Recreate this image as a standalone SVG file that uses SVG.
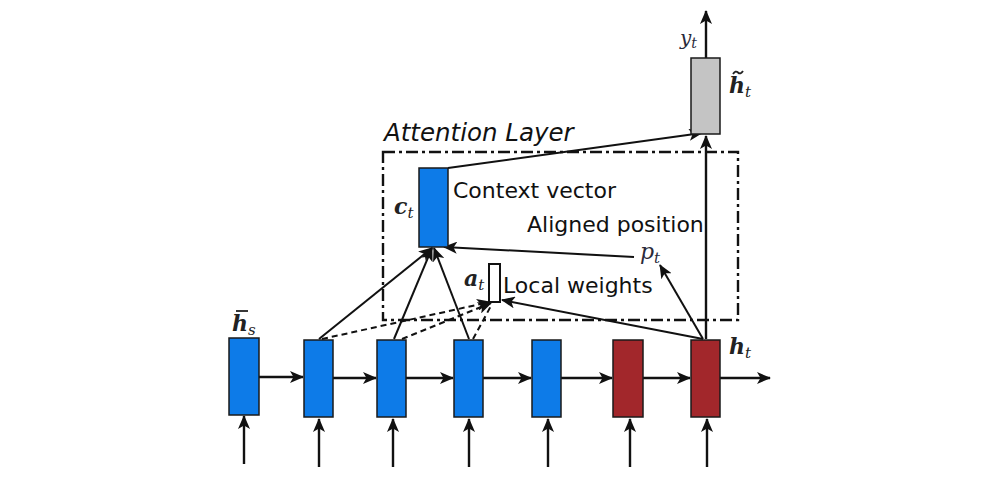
<svg xmlns="http://www.w3.org/2000/svg" width="996" height="484" viewBox="0 0 996 484">
<style>
.blue{fill:#0d7be8;stroke:#1a1a1a;stroke-width:1.5}
.red{fill:#a2272b;stroke:#1a1a1a;stroke-width:1.5}
.gray{fill:#c4c4c4;stroke:#1a1a1a;stroke-width:1.5}
.ln{stroke:#111;stroke-width:2.4;fill:none}
.th{stroke:#111;stroke-width:2;fill:none}
.dash{stroke:#111;stroke-width:2;fill:none;stroke-dasharray:6 4}
.lbl{font-family:"DejaVu Sans",sans-serif;font-size:22px;fill:#111}
.math{font-family:"DejaVu Serif","Liberation Serif",serif;font-style:italic;fill:#2a2a3a}
.mb{font-family:"DejaVu Serif","Liberation Serif",serif;font-style:italic;font-weight:bold;fill:#222;font-size:22px}
.sub{font-weight:normal;font-size:15px}
.acc{stroke:#222;stroke-width:1.8;fill:none}
</style>
<defs>
<marker id="ah" viewBox="0 0 14 12" refX="13" refY="6" markerWidth="14" markerHeight="12" markerUnits="userSpaceOnUse" orient="auto">
<path d="M0,0 L14,6 L0,12 L3.5,6 z" fill="#111"/>
</marker>
</defs>
<rect width="996" height="484" fill="#fff"/>

<g id="attention-layer">
<rect x="383" y="152" width="355" height="168" fill="none" stroke="#111" stroke-width="2.4" stroke-dasharray="12 4 3 4"/>
<text x="384" y="141" class="lbl" style="font-style:italic;font-size:24.5px">Attention Layer</text>
</g>

<g id="connectors">
<line x1="259" y1="377" x2="303" y2="377" class="ln" marker-end="url(#ah)"/>
<line x1="333" y1="378" x2="376" y2="378" class="ln" marker-end="url(#ah)"/>
<line x1="406" y1="378" x2="453" y2="378" class="ln" marker-end="url(#ah)"/>
<line x1="483" y1="378" x2="531" y2="378" class="ln" marker-end="url(#ah)"/>
<line x1="561" y1="378" x2="612" y2="378" class="ln" marker-end="url(#ah)"/>
<line x1="643" y1="378" x2="690" y2="378" class="ln" marker-end="url(#ah)"/>
<line x1="720" y1="378" x2="770" y2="378" class="ln" marker-end="url(#ah)"/>
<line x1="244" y1="464" x2="244" y2="416" class="ln" marker-end="url(#ah)"/>
<line x1="319" y1="467" x2="319" y2="419" class="ln" marker-end="url(#ah)"/>
<line x1="393" y1="467" x2="393" y2="419" class="ln" marker-end="url(#ah)"/>
<line x1="469" y1="467" x2="469" y2="419" class="ln" marker-end="url(#ah)"/>
<line x1="548" y1="467" x2="548" y2="419" class="ln" marker-end="url(#ah)"/>
<line x1="630" y1="467" x2="630" y2="419" class="ln" marker-end="url(#ah)"/>
<line x1="707" y1="467" x2="707" y2="419" class="ln" marker-end="url(#ah)"/>
<line x1="319" y1="339" x2="432" y2="248" class="th" marker-end="url(#ah)"/>
<line x1="394" y1="339" x2="432" y2="248" class="th" marker-end="url(#ah)"/>
<line x1="469" y1="339" x2="434" y2="248" class="th" marker-end="url(#ah)"/>
<line x1="322" y1="339" x2="490" y2="302" class="dash" marker-end="url(#ah)"/>
<line x1="402" y1="339" x2="491" y2="303" class="dash" marker-end="url(#ah)"/>
<line x1="473" y1="339" x2="492" y2="304" class="dash"/>
<line x1="634" y1="257" x2="444" y2="247" class="th" marker-end="url(#ah)"/>
<line x1="703" y1="339" x2="660" y2="265" class="th" marker-end="url(#ah)"/>
<line x1="703" y1="339" x2="502" y2="300" class="th" marker-end="url(#ah)"/>
<line x1="706" y1="339" x2="706" y2="136" class="ln" marker-end="url(#ah)"/>
<line x1="448" y1="168" x2="702" y2="133" class="th" marker-end="url(#ah)"/>
<line x1="706" y1="58" x2="706" y2="11" class="ln" marker-end="url(#ah)"/>
</g>

<g id="hs"><rect x="229" y="338" width="30" height="77" class="blue"/>
<line x1="236" y1="311" x2="248" y2="311" class="acc"/>
<text x="232" y="331" class="mb">h<tspan class="sub" dy="4">s</tspan></text></g>
<g id="h2"><rect x="304" y="340" width="29" height="77" class="blue"/></g>
<g id="h3"><rect x="377" y="340" width="29" height="77" class="blue"/></g>
<g id="h4"><rect x="454" y="340" width="29" height="77" class="blue"/></g>
<g id="h5"><rect x="532" y="340" width="29" height="77" class="blue"/></g>
<g id="h6"><rect x="613" y="340" width="30" height="77" class="red"/></g>
<g id="ht"><rect x="691" y="340" width="29" height="77" class="red"/>
<text x="729" y="354" class="mb">h<tspan class="sub" dy="4">t</tspan></text></g>

<g id="context"><rect x="419" y="168" width="29" height="79" class="blue"/>
<text x="394" y="214" class="mb">c<tspan class="sub" dy="4">t</tspan></text>
<text x="453" y="198" class="lbl">Context vector</text></g>

<g id="aligned"><text x="527" y="232" class="lbl">Aligned position</text>
<text x="640" y="259" class="math" font-size="22">p<tspan font-size="15" dy="4">t</tspan></text></g>

<g id="local"><rect x="489" y="264" width="11" height="38" fill="#fff" stroke="#111" stroke-width="2"/>
<text x="464" y="286" class="mb">a<tspan class="sub" dy="4">t</tspan></text>
<text x="503" y="293" class="lbl">Local weights</text></g>

<g id="htilde"><rect x="691" y="58" width="29" height="76" class="gray"/>
<path d="M733,74 q2.5,-4 5,-1.5 t5,-1.5" class="acc"/>
<text x="729" y="93" class="mb">h<tspan class="sub" dy="4">t</tspan></text>
<text x="680" y="45" class="math" font-size="20">y<tspan font-size="14" dy="3">t</tspan></text></g>
</svg>
